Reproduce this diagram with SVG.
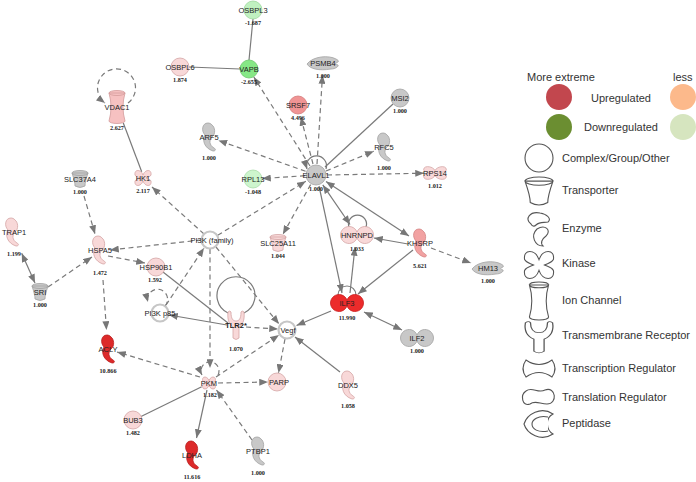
<svg xmlns="http://www.w3.org/2000/svg" xmlns:xlink="http://www.w3.org/1999/xlink" width="696" height="482" viewBox="0 0 696 482">
<style>
.e{fill:none;stroke:#7a7a7a;stroke-width:1.2}
.d{stroke-dasharray:5,3.5}
.lb{font-family:"Liberation Sans",Arial,sans-serif;font-size:7.5px;fill:#222;text-anchor:middle}
.v{font-family:"Liberation Serif","Times New Roman",serif;font-size:6.2px;font-weight:bold;fill:#222;text-anchor:middle}
.pk{fill:#f8d8d8;stroke:#d4a4a4;stroke-width:0.8}
.gy{fill:#c8c8c8;stroke:#a2a2a2;stroke-width:0.8}
.wt{fill:#ffffff;stroke:#c6c6c6;stroke-width:2.2}
.lg{font-family:"Liberation Sans",Arial,sans-serif;font-size:11px;fill:#333}
.ls{fill:#ffffff;stroke:#555;stroke-width:1.1}
</style>
<defs>
<marker id="ah" viewBox="0 0 10 8" refX="10" refY="4" markerWidth="9" markerHeight="7" markerUnits="userSpaceOnUse" orient="auto-start-reverse"><path d="M0,0 L10,4 L0,8 Z" fill="#777"/></marker>
<path id="enz" d="M -1,-14 C -7,-14 -8,-6 -4,-2 C -7,3 -5,11 4,14 C 7,14 7,12 5,11 C 0,8 0,3 3,0 C 7,-3 6,-10 3,-12 C 2,-13.5 0,-14 -1,-14 Z"/>
<path id="kin" d="M 0,-3 C 2,-9 9,-9 8,-3 C 7,-1 5,-1 3,0 C 5,1 7,1 8,3 C 9,9 2,9 0,3 C -2,9 -9,9 -8,3 C -7,1 -5,1 -3,0 C -5,-1 -7,-1 -8,-3 C -9,-9 -2,-9 0,-3 Z"/>
<path id="trp" d="M -8,-6 C -6,0 -5,4 -5,7 Q 0,10 5,7 C 5,4 6,0 8,-6 Z M -8,-6 A 8 2.5 0 1 0 8,-6 A 8 2.5 0 1 0 -8,-6 Z"/>
<path id="ion" d="M -8,-14 Q -4,0 -8,14 A 8 2.5 0 0 0 8,14 Q 4,0 8,-14 Z M -8,-14 A 8 2.5 0 1 0 8,-14 A 8 2.5 0 1 0 -8,-14 Z"/>
<path id="tmr" d="M -8,-13 C -9,-4 -6,0 -3,2 L -3,13 Q 0,16 3,13 L 3,2 C 6,0 9,-4 8,-13 Q 6,-15 5,-13 C 5,-6 3,-4 0,-4 C -3,-4 -5,-6 -5,-13 Q -6,-15 -8,-13 Z"/>
<path id="pea" d="M 0,-2.9 A 8.5 8.5 0 1 0 0,2.9 A 8.5 8.5 0 1 0 0,-2.9 Z"/>
<path id="pep" d="M -16,1 C -10,-7 6,-8 13,-4 C 15,-3 16,-2 15,-1 C 12,0 12,1 15,2 C 16,3 13,6 8,6 C -4,8 -13,6 -16,1 Z"/>
</defs>
<rect width="696" height="482" fill="#ffffff"/>

<g id="connectors">
<path class="e" d="M253,19 L249,60"/>
<path class="e" d="M189,67 L240,69"/>
<path class="e d" d="M310,166 L253.8,77" marker-end="url(#ah)"/>
<path class="e d" d="M317,164 L322.5,75" marker-end="url(#ah)"/>
<path class="e d" d="M313,164 L300.8,117" marker-end="url(#ah)"/>
<path class="e" d="M393,104 L325,167"/>
<path class="e d" d="M326,171 L373.8,151.2" marker-end="url(#ah)"/>
<path class="e d" d="M327,175 L424,173.2" marker-end="url(#ah)"/>
<path class="e d" d="M305.6,171.3 L218.4,140.4" marker-end="url(#ah)"/>
<path class="e d" d="M305,175.7 L262,178.6" marker-end="url(#ah)"/>
<path class="e d" d="M310.6,184.6 L282.9,234.3" marker-end="url(#ah)"/>
<path class="e d" d="M217.7,235.3 L305.8,181.3" marker-end="url(#ah)"/>
<path class="e" d="M322.8,184.9 L350,224.5" marker-start="url(#ah)" marker-end="url(#ah)"/>
<path class="e" d="M326,181.6 L409,236" marker-start="url(#ah)" marker-end="url(#ah)"/>
<path class="e" d="M319,186 L342,293" marker-end="url(#ah)"/>
<path class="e" d="M350,293 L355,247" marker-end="url(#ah)"/>
<path class="e" d="M408,244 L374,238" marker-end="url(#ah)"/>
<path class="e" d="M413,250 L358,294" marker-end="url(#ah)"/>
<path class="e d" d="M431,248 L471,263" marker-end="url(#ah)"/>
<path class="e" d="M331,311 L296.5,325.5" marker-end="url(#ah)"/>
<path class="e" d="M364,312 L402,330" marker-start="url(#ah)" marker-end="url(#ah)"/>
<path class="e" d="M340,372 L295,337" marker-end="url(#ah)"/>
<path class="e d" d="M285,339 L278.5,373" marker-end="url(#ah)"/>
<path class="e d" d="M218,383 L268,382" marker-end="url(#ah)"/>
<path class="e d" d="M216,377 L279,335" marker-end="url(#ah)"/>
<path class="e d" d="M246,327 L278,329" marker-end="url(#ah)"/>
<path class="e d" d="M216,247 L279,324" marker-end="url(#ah)"/>
<path class="e d" d="M204,234 L152,187" marker-end="url(#ah)"/>
<path class="e d" d="M201,240 L110,250" marker-end="url(#ah)"/>
<path class="e d" d="M210,249 L210,368" marker-end="url(#ah)"/>
<path class="e d" d="M166,305 L204,248" marker-end="url(#ah)"/>
<path class="e" d="M227,325 L169,315" marker-end="url(#ah)"/>
<path class="e" d="M163,272 L228,323"/>
<path class="e d" d="M108,256 L145,263" marker-end="url(#ah)"/>
<path class="e d" d="M84,196 L95,234" marker-end="url(#ah)"/>
<path class="e d" d="M48,287 L92,257" marker-end="url(#ah)"/>
<path class="e" d="M21.7,253.3 L35,283" marker-start="url(#ah)" marker-end="url(#ah)"/>
<path class="e d" d="M103,280 L106.5,330" marker-end="url(#ah)"/>
<path class="e d" d="M200,377 L117,352" marker-end="url(#ah)"/>
<path class="e" d="M140,417 L201.7,386.7"/>
<path class="e" d="M207,390 L196.5,438" marker-end="url(#ah)"/>
<path class="e d" d="M252,440 L216.5,390" marker-end="url(#ah)"/>
<path class="e" d="M123.3,123 L141.7,171.7"/>
<path class="e" d="M326,169 A 10 10 0 1 0 307,169" marker-end="url(#ah)"/>
<path class="e" d="M366,227 A 9 9 0 1 0 349,227"/>
<path class="e" d="M356,295 A 9 9 0 1 0 338,295"/>
<path class="e" d="M244,313 A 19 19 0 1 0 228,313"/>
<path class="e d" d="M218,375 A 9 9 0 1 0 202,375" marker-end="url(#ah)"/>
<path class="e d" d="M165,306 A 10 10 0 1 0 148,302" marker-end="url(#ah)"/>
<path class="e d" d="M128,103 A 19 19 0 1 0 105,103" marker-end="url(#ah)"/>
</g>

<g id="OSBPL3"><circle cx="253" cy="10" r="9" fill="#c0f1c0" stroke="#9ed79e" stroke-width="0.8"/><text class="lb" x="253" y="12.5">OSBPL3</text><text class="v" x="253" y="25">-1.687</text></g>
<g id="OSBPL6"><circle class="pk" cx="180" cy="67" r="9"/><text class="lb" x="180" y="69.5">OSBPL6</text><text class="v" x="180" y="82">1.874</text></g>
<g id="VAPB"><circle cx="249" cy="69" r="9" fill="#86e886" stroke="#6cc86c" stroke-width="0.8"/><text class="lb" x="249" y="71.5">VAPB</text><text class="v" x="249" y="84">-2.655</text></g>
<g id="VDAC1"><use href="#ion" x="117" y="107" fill="#f6c1c1" stroke="#d39a9a" stroke-width="0.8"/><text class="lb" x="117" y="109.5">VDAC1</text><text class="v" x="117" y="130">2.627</text></g>
<g id="ARF5"><use href="#enz" x="209" y="137" class="gy"/><text class="lb" x="209" y="139.5">ARF5</text><text class="v" x="209" y="160">1.000</text></g>
<g id="HK1"><use href="#kin" x="143" y="178" class="pk"/><text class="lb" x="143" y="180.5">HK1</text><text class="v" x="143" y="193">2.117</text></g>
<g id="SLC37A4"><use href="#trp" x="80" y="179" class="gy"/><text class="lb" x="80" y="181.5">SLC37A4</text><text class="v" x="80" y="194">1.000</text></g>
<g id="RPL13"><circle cx="253" cy="179" r="9" fill="#cdf5cd" stroke="#a9dca9" stroke-width="0.8"/><text class="lb" x="253" y="181.5">RPL13</text><text class="v" x="253" y="194">-1.048</text></g>
<g id="PSMB4"><use href="#pep" x="323" y="63" class="gy"/><text class="lb" x="323" y="65.5">PSMB4</text><text class="v" x="323" y="78">1.000</text></g>
<g id="SRSF7"><circle cx="298" cy="105" r="9" fill="#f09494" stroke="#d47878" stroke-width="0.8"/><text class="lb" x="298" y="107.5">SRSF7</text><text class="v" x="298" y="120">4.496</text></g>
<g id="MSI2"><circle class="gy" cx="400" cy="98" r="9"/><text class="lb" x="400" y="100.5">MSI2</text><text class="v" x="400" y="113">1.000</text></g>
<g id="RFC5"><use href="#enz" x="384" y="147" class="gy"/><text class="lb" x="384" y="149.5">RFC5</text><text class="v" x="384" y="170">1.000</text></g>
<g id="ELAVL1"><circle class="gy" cx="316" cy="175" r="10"/><text class="lb" x="316" y="177.5">ELAVL1</text><text class="v" x="316" y="191">1.000</text></g>
<g id="RPS14"><use href="#kin" transform="translate(435,173) scale(1.4,0.85)" fill="#f8d8d8" stroke="#d4a4a4" stroke-width="0.7"/><text class="lb" x="435" y="175.5">RPS14</text><text class="v" x="435" y="188">1.012</text></g>
<g id="KHSRP"><use href="#enz" x="420" y="243" fill="#f2a2a2" stroke="#d48484" stroke-width="0.8"/><text class="lb" x="420" y="245.5">KHSRP</text><text class="v" x="420" y="268">5.621</text></g>
<g id="HM13"><use href="#pep" x="488" y="268" class="gy"/><text class="lb" x="488" y="270.5">HM13</text><text class="v" x="488" y="283">1.000</text></g>
<g id="TRAP1"><use href="#enz" x="12" y="232" class="pk"/><text class="lb" x="14" y="234.5">TRAP1</text><text class="v" x="14" y="256">1.199</text></g>
<g id="HSPA5"><use href="#enz" x="99" y="250" class="pk"/><text class="lb" x="100" y="252.5">HSPA5</text><text class="v" x="100" y="275">1.472</text></g>
<g id="HSP90B1"><circle class="pk" cx="156" cy="267" r="9"/><text class="lb" x="156" y="269.5">HSP90B1</text><text class="v" x="155" y="282">1.592</text></g>
<g id="SRI"><use href="#trp" x="40" y="292" class="gy"/><text class="lb" x="40" y="294.5">SRI</text><text class="v" x="40" y="307">1.000</text></g>
<g id="PI3K_family"><circle class="wt" cx="210" cy="240" r="8.5"/><text class="lb" x="212" y="242.5">PI3K (family)</text></g>
<g id="SLC25A11"><use href="#trp" x="278" y="243" class="pk"/><text class="lb" x="278" y="245.5">SLC25A11</text><text class="v" x="278" y="258">1.044</text></g>
<g id="PI3K_p85"><circle class="wt" cx="160" cy="313" r="8.5"/><text class="lb" x="160" y="315.5">PI3K p85</text></g>
<g id="TLR2"><use href="#tmr" x="236" y="325" class="pk"/><text class="lb" x="236" y="327.5" font-weight="bold">TLR2*</text><text class="v" x="236" y="351">1.070</text></g>
<g id="Vegf"><circle class="wt" cx="287" cy="330" r="8.5"/><text class="lb" x="288" y="332.5">Vegf</text></g>
<g id="PKM"><use href="#kin" transform="translate(209,383) scale(0.8)" fill="#f8d8d8" stroke="#d4a4a4" stroke-width="1"/><text class="lb" x="209" y="385.5">PKM</text><text class="v" x="210" y="397">1.182</text></g>
<g id="PARP"><circle class="pk" cx="277" cy="382" r="9"/><text class="lb" x="279" y="384.5">PARP</text></g>
<g id="HNRNPD"><use href="#pea" x="357" y="235" class="pk"/><text class="lb" x="357" y="237.5">HNRNPD</text><text class="v" x="357" y="251">1.033</text></g>
<g id="ILF3"><use href="#pea" x="347" y="303" fill="#ec2b2b" stroke="#c81e1e" stroke-width="0.8"/><text class="lb" x="347" y="305.5">ILF3</text><text class="v" x="347" y="320">11.990</text></g>
<g id="ILF2"><use href="#pea" x="417" y="338" class="gy"/><text class="lb" x="417" y="340.5">ILF2</text><text class="v" x="417" y="353">1.000</text></g>
<g id="DDX5"><use href="#enz" x="348" y="385" class="pk"/><text class="lb" x="348" y="387.5">DDX5</text><text class="v" x="348" y="408">1.058</text></g>
<g id="ACLY"><use href="#enz" x="108" y="349" fill="#dd2a2a" stroke="#b81e1e" stroke-width="0.8"/><text class="lb" x="108" y="351.5">ACLY</text><text class="v" x="108" y="373">10.866</text></g>
<g id="BUB3"><circle class="pk" cx="133" cy="420" r="9"/><text class="lb" x="133" y="422.5">BUB3</text><text class="v" x="133" y="435">1.482</text></g>
<g id="LDHA"><use href="#enz" x="192" y="455" fill="#dd2a2a" stroke="#b81e1e" stroke-width="0.8"/><text class="lb" x="192" y="457.5">LDHA</text><text class="v" x="192" y="479">11.616</text></g>
<g id="PTBP1"><use href="#enz" x="258" y="451" class="gy"/><text class="lb" x="258" y="453.5">PTBP1</text><text class="v" x="258" y="475">1.000</text></g>

<g id="legend">
<text class="lg" x="527" y="81">More extreme</text>
<text class="lg" x="673" y="81">less</text>
<circle cx="559" cy="97" r="13" fill="#c2474e"/>
<circle cx="683" cy="97" r="13" fill="#fcb98b"/>
<circle cx="559" cy="127" r="13" fill="#6b8e31"/>
<circle cx="683" cy="127" r="13" fill="#d6e5bf"/>
<text class="lg" x="621" y="102" text-anchor="middle">Upregulated</text>
<text class="lg" x="621" y="131" text-anchor="middle">Downregulated</text>
<circle class="ls" cx="539" cy="158" r="14"/>
<text class="lg" x="562" y="162">Complex/Group/Other</text>
<use href="#trp" transform="translate(539,191) scale(1.75,1.65)" fill="#fff" stroke="#555" stroke-width="0.65"/>
<text class="lg" x="562" y="194">Transporter</text>
<path class="ls" d="M531,224 C524,219 530,211 540,213 C547,214 552,219 548,222 C544,223 540,221 536,225 C534,227 532,226 531,224 Z"/>
<path class="ls" d="M537,229 C545,224 552,230 546,236 C542,239 540,243 543,246 C535,246 530,236 537,229 Z"/>
<text class="lg" x="562" y="232">Enzyme</text>
<use href="#kin" transform="translate(539,265) scale(1.8)" fill="#fff" stroke="#555" stroke-width="0.6"/>
<text class="lg" x="562" y="267">Kinase</text>
<use href="#ion" transform="translate(539,301) scale(1.2,1.15)" fill="#fff" stroke="#555" stroke-width="0.9"/>
<text class="lg" x="562" y="304">Ion Channel</text>
<use href="#tmr" transform="translate(539,337) scale(1.7,1.1)" fill="#fff" stroke="#555" stroke-width="0.75"/>
<text class="lg" x="562" y="339">Transmembrane Receptor</text>
<path class="ls" d="M526,360 Q539,369 552,360 Q558,368.5 552,377 Q539,368 526,377 Q520,368.5 526,360 Z"/>
<text class="lg" x="562" y="372">Transcription Regulator</text>
<path class="ls" d="M526,391 C532,386 538,394 545,390 C556,386 558,404 547,404 C540,404 535,400 530,404 C522,407 520,395 526,391 Z"/>
<text class="lg" x="562" y="401">Translation Regulator</text>
<path class="ls" d="M553,414 C541,406 527,414 524,424 C527,434 541,442 553,434 C546,430 545,418 553,414 Z"/>
<path class="ls" fill="none" d="M548,417 C538,415 532,420 532,424 C532,429 538,433 548,431"/>
<text class="lg" x="562" y="427">Peptidase</text>
</g>
</svg>
